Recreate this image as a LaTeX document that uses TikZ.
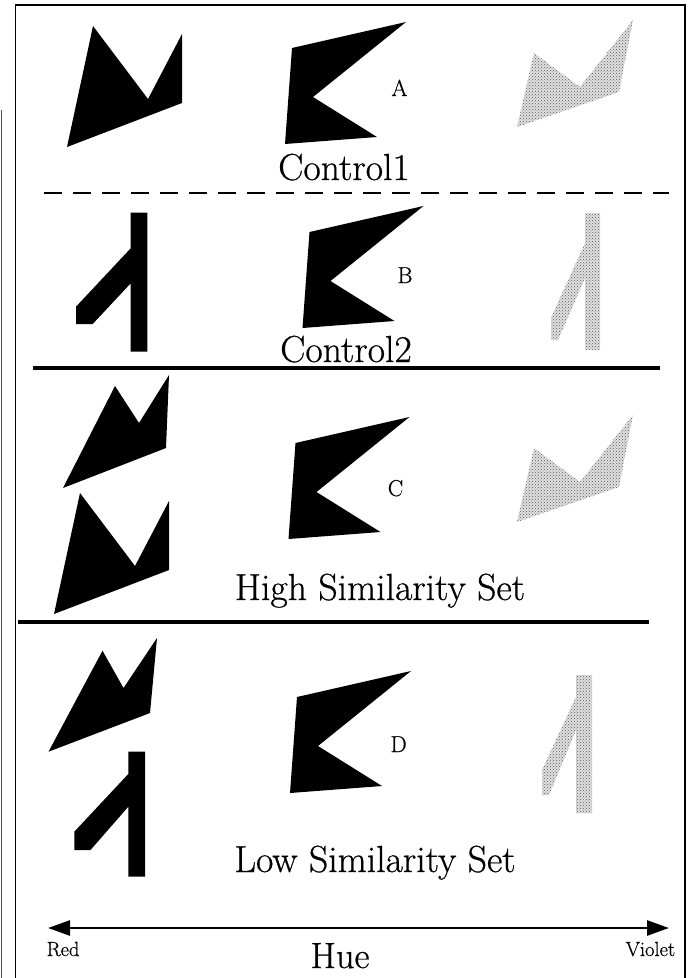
\documentclass[tikz,border=0pt]{standalone}
\usepackage{fontspec}
\newfontfamily\reffont{Latin Modern Roman}[FakeBold=0.6]
\usetikzlibrary{arrows.meta,patterns}
\begin{document}
\begin{tikzpicture}[x=1pt,y=-1pt,
  solidshape/.style={fill=black},
  ghostbase/.style={fill=black!12},
  ghostdots/.style={pattern=crosshatch dots, pattern color=black!65},
  lbl/.style={inner sep=0pt, anchor=base, font=\reffont\fontsize{23}{25}\selectfont},
  titletext/.style={inner sep=0pt, anchor=base, font=\reffont\fontsize{37.7}{40}\selectfont},
  endtext/.style={inner sep=0pt, font=\reffont\fontsize{20.5}{22}\selectfont},
  framepen/.style={line width=1.8pt},
  dashpen/.style={line width=2pt, dash pattern=on 18pt off 11pt},
  rulepen/.style={line width=3.6pt},
  arrowpen/.style={line width=2.6pt, {Triangle[length=22pt,width=15pt]}-{Triangle[length=22pt,width=15pt]}}
]
\useasboundingbox (0,0) rectangle (691,978);
\fill[white] (0,0) rectangle (691,978);

% frame
\coordinate (fBL) at (15.5,978);
\coordinate (fTL) at (15.5,5);
\coordinate (fTR) at (685,5);
\coordinate (fBR) at (685,978);
\draw[framepen] (fBL) -- (fTL) -- (fTR) -- (fBR);
\coordinate (edgeT) at (1.5,110);
\coordinate (edgeB) at (1.5,978);
\draw[line width=1pt, black!70] (edgeT) -- (edgeB);

% separators
\coordinate (dashL) at (44,193);
\coordinate (dashR) at (669,193);
\draw[dashpen] (dashL) -- (dashR);
\coordinate (ruleAL) at (33,368);
\coordinate (ruleAR) at (660,368);
\draw[rulepen] (ruleAL) -- (ruleAR);
\coordinate (ruleBL) at (18,622);
\coordinate (ruleBR) at (649,622);
\draw[rulepen] (ruleBL) -- (ruleBR);

% left column shapes
\fill[solidshape] (93,26) -- (148,99) -- (182,34) -- (182,103) -- (67,147) -- cycle;
\fill[solidshape] (130.7,212.7) -- (147.3,212.7) -- (147.3,351.7) -- (130.7,351.7) -- (130.7,283.3) -- (92.7,324) -- (76,324) -- (76,306.7) -- (130.7,248.3) -- cycle;
\fill[solidshape] (115,386) -- (139,423) -- (169,375) -- (166,448) -- (63,488) -- cycle;
\fill[solidshape] (80,493) -- (135,566) -- (169,501) -- (169,570) -- (54,614) -- cycle;
\fill[solidshape] (102.5,650.7) -- (123.5,688) -- (157,638) -- (150,713) -- (48.5,751.7) -- cycle;
\fill[solidshape] (128.3,751.7) -- (145,751.7) -- (145,876.7) -- (128.3,876.7) -- (128.3,806.7) -- (90.5,850) -- (74.3,850) -- (74.3,831.7) -- (128.3,774) -- cycle;

% middle column shapes
\foreach \dx/\dy in {0/0, 17.5/184, 3.5/395, 5/649}{
  \fill[solidshape, shift={(\dx,\dy)}] (406,22) -- (292,48) -- (285,144) -- (377,137) -- (313,97) -- cycle;
}

% right column ghost shapes
\foreach \dy in {0,395}{
  \fill[ghostbase, shift={(0,\dy)}] (517,127) -- (534,53) -- (580,87) -- (633,20) -- (619,92) -- cycle;
  \fill[ghostdots, shift={(0,\dy)}] (517,127) -- (534,53) -- (580,87) -- (633,20) -- (619,92) -- cycle;
}
\fill[ghostbase] (585,213) -- (600,213) -- (600,350) -- (585,350) -- (585,278) -- (558,340) -- (551,340) -- (551,318) -- (585,243) -- cycle;
\fill[ghostdots] (585,213) -- (600,213) -- (600,350) -- (585,350) -- (585,278) -- (558,340) -- (551,340) -- (551,318) -- (585,243) -- cycle;
\fill[ghostbase] (576,675) -- (592,675) -- (592,813) -- (576,813) -- (576,730) -- (549,795) -- (542,795) -- (542,770) -- (576,697) -- cycle;
\fill[ghostdots] (576,675) -- (592,675) -- (592,813) -- (576,813) -- (576,730) -- (549,795) -- (542,795) -- (542,770) -- (576,697) -- cycle;

% letters
\node[lbl] (labA) at (399.5,96) {A};
\node[lbl] (labB) at (405,283) {B};
\node[lbl] (labC) at (395.5,496) {C};
\node[lbl] (labD) at (398.6,752) {D};

% titles
\node[titletext] (t1) at (344,180) {Control1};
\node[titletext] (t2) at (346,362) {Control2};
\node[titletext] (t3) at (380,600) {High Similarity Set};
\node[titletext] (t4) at (375,872) {Low Similarity Set};

% hue axis
\coordinate (hueL) at (48,928);
\coordinate (hueR) at (669,928);
\draw[arrowpen] (hueL) -- (hueR);
\node[endtext, anchor=base west] (red) at (46.5,956) {Red};
\node[endtext, anchor=base east] (violet) at (675.4,956) {Violet};
\node[inner sep=0pt, anchor=base, font=\reffont\fontsize{36.5}{38}\selectfont] (hue) at (340,968) {Hue};
\end{tikzpicture}
\end{document}
